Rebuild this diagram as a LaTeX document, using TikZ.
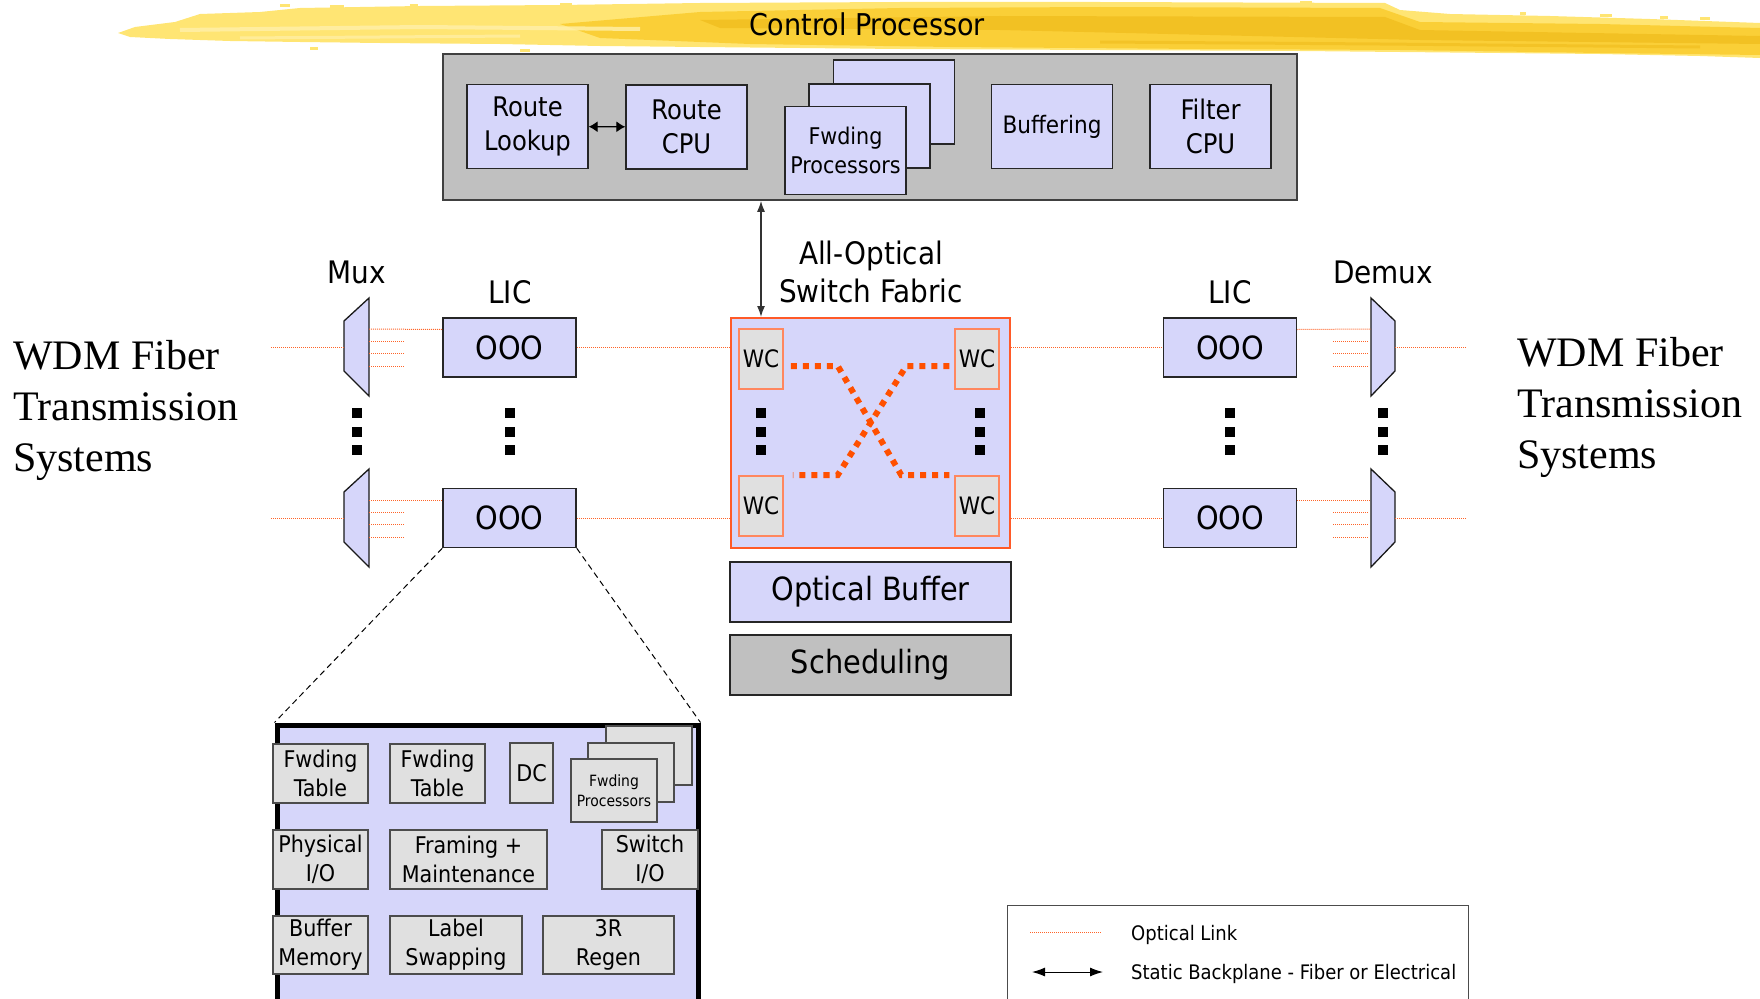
\documentclass[tikz,border=0pt]{standalone}
\usepackage{fontspec}
\setmainfont{DejaVu Sans Condensed}
\newfontfamily\wdmfont{Liberation Serif}
\usetikzlibrary{arrows.meta,calc,positioning}

\definecolor{lav}{RGB}{214,214,250}
\definecolor{cpgray}{RGB}{192,192,192}
\definecolor{boxgray}{RGB}{224,224,224}
\definecolor{linkorange}{RGB}{255,100,40}
\definecolor{xorange}{RGB}{255,80,0}
\definecolor{fabedge}{RGB}{255,90,40}
\definecolor{wcedge}{RGB}{255,135,95}
\definecolor{brushA}{RGB}{255,229,115}
\definecolor{brushB}{RGB}{250,204,45}
\definecolor{brushC}{RGB}{238,184,22}
\definecolor{brushD}{RGB}{255,240,170}

\tikzset{
  >={Latex[length=11pt,width=8pt]},
  cpbox/.style  ={draw=black!85, line width=1.3pt, fill=lav, minimum width=121pt,
                  minimum height=84pt, inner sep=0pt, align=center,
                  font=\fontsize{27}{34}\selectfont},
  licbox/.style ={draw=black!85, line width=1.5pt, fill=lav, minimum width=133pt,
                  minimum height=59pt, inner sep=0pt, font=\fontsize{32}{36}\selectfont},
  wcbox/.style  ={draw=wcedge, line width=1.5pt, fill=boxgray, minimum width=44pt,
                  minimum height=60pt, inner sep=0pt, font=\fontsize{24}{28}\selectfont},
  partbox/.style={draw=black!70, line width=1.2pt, fill=boxgray, minimum height=59pt,
                  inner sep=0pt, align=center, font=\fontsize{23}{29}\selectfont},
  widebox/.style={draw=black!85, line width=1.5pt, minimum width=281pt,
                  minimum height=60pt, inner sep=0pt, font=\fontsize{32}{36}\selectfont},
  mux/.style    ={draw=black!90, line width=1.3pt, fill=lav},
  olink/.style  ={draw=linkorange, line width=1pt, dash pattern=on 1pt off 1pt},
  xlink/.style  ={draw=xorange, line width=6pt, dash pattern=on 6pt off 6pt},
  lbl/.style    ={inner sep=0pt, font=\fontsize{31}{38}\selectfont, align=center},
  wdm/.style    ={inner sep=0pt, font=\wdmfont\fontsize{42}{51}\selectfont, align=left},
  legtext/.style={inner sep=0pt, font=\fontsize{20}{24}\selectfont},
}

\begin{document}
\begin{tikzpicture}[x=1pt, y=-1pt, line join=miter]
  \useasboundingbox (0,0) rectangle (1760,998);

  %--- Brush stroke banner ---
  \fill[brushA] (118,33) -- (135,27) -- (175,22) -- (200,14) -- (260,12) -- (300,8)
    -- (420,6) -- (560,5) -- (700,3) -- (900,2) -- (1100,2) -- (1385,3) -- (1400,10)
    -- (1450,14) -- (1550,16) -- (1650,19) -- (1760,23) -- (1760,58) -- (1700,56)
    -- (1600,54) -- (1500,53) -- (1400,52) -- (1300,51) -- (1100,50) -- (900,49)
    -- (700,47) -- (600,46) -- (500,44) -- (380,43) -- (300,42) -- (230,41)
    -- (170,39) -- (130,37) -- cycle;
  \fill[brushB, opacity=0.85] (560,24) -- (700,12) -- (900,8) -- (1100,7) -- (1380,8)
    -- (1420,22) -- (1600,24) -- (1760,28) -- (1760,55) -- (1600,53) -- (1400,50)
    -- (1200,49) -- (950,47) -- (750,44) -- (600,38) -- cycle;
  \fill[brushC, opacity=0.6] (700,20) -- (1000,16) -- (1385,17) -- (1420,30)
    -- (1760,36) -- (1760,44) -- (1420,40) -- (1000,30) -- (720,28) -- cycle;
  \draw[brushD, line width=4pt, opacity=0.8] (180,30) -- (420,27) -- (640,29);
  \draw[brushD, line width=3pt, opacity=0.7] (240,38) -- (520,36);
  \draw[brushC, line width=3pt, opacity=0.5] (1100,42) -- (1380,44) -- (1700,47);
  % loose flecks
  \foreach \fx/\fy/\fw in {280/4/10, 330/5/14, 410/4/8, 470/6/18, 560/3/12,
                           640/4/9, 1300/1/12, 1420/13/10, 1480/15/14, 1520/12/6,
                           1600/14/12, 1660/16/8, 1700/17/10, 310/47/8, 520/49/10}
    \fill[brushA] (\fx,\fy) rectangle ++(\fw,3);
  \node[inner sep=0pt, anchor=base, font=\fontsize{30}{34}\selectfont] (cptitle)
    at (867,36) {Control Processor};

  %--- Control processor card ---
  \node[draw=black!75, line width=1.6pt, fill=cpgray, minimum width=854pt,
        minimum height=146pt, inner sep=0pt] (cp) at (870,127) {};
  \node[cpbox] (lookup) at (527.5,126.5) {Route\\Lookup};
  \node[cpbox] (rcpu)   at (686.5,127)   {Route\\CPU};
  \node[cpbox] (fwdC)   at (894,102)     {};
  \node[cpbox] (fwdB)   at (869.5,126)   {};
  \node[cpbox, minimum height=88pt, font=\fontsize{23}{29}\selectfont] (fwdA)
    at (845.5,150.5) {Fwding\\Processors};
  \node[cpbox, font=\fontsize{24}{28}\selectfont] (buff) at (1052,126.5) {Buffering};
  \node[cpbox] (fcpu)   at (1210.5,126.5) {Filter\\CPU};
  \draw[<->, line width=1.2pt, >={Latex[length=9pt,width=11pt]}] (lookup) -- (rcpu);

  %--- Switch fabric ---
  \node[draw=fabedge, line width=2pt, fill=lav, minimum width=279pt,
        minimum height=230pt, inner sep=0pt] (fab) at (870.5,433) {};
  \node[wcbox] (wc1) at (761,359) {WC};
  \node[wcbox] (wc2) at (977,359) {WC};
  \node[wcbox] (wc3) at (761,506) {WC};
  \node[wcbox] (wc4) at (977,506) {WC};
  \draw[xlink] ($(wc1.east)+(7,7)$) -- ++(47,0) -- ($(wc4.west)+(-53,-31)$) -- ++(48,0);
  \draw[xlink] ($(wc2.west)+(-5,7)$) -- ++(-43,0) -- ($(wc3.east)+(54,-31)$) -- ++(-45,0);
  \node[lbl, anchor=base] (fablbl) at (871,302) {All-Optical\\Switch Fabric};
  \draw[<->, line width=1.4pt, draw=black!80] (cp.south -| wc1) -- (fab.north -| wc1);

  \node[widebox, fill=lav]    (obuf)  at (870.5,592) {Optical Buffer};
  \node[widebox, fill=cpgray] (sched) at (870.5,665) {Scheduling};

  %--- Line interface cards ---
  \node[licbox] (licA) at (509.5,347.5) {OOO};
  \node[licbox] (licB) at (509.5,518)   {OOO};
  \node[licbox] (licC) at (1230,347.5)  {OOO};
  \node[licbox] (licD) at (1230,518)    {OOO};
  \node[lbl, anchor=base] (liclblL) at (510,303)  {LIC};
  \node[lbl, anchor=base] (liclblR) at (1230,303) {LIC};
  \node[lbl, anchor=base] (muxlbl)  at (357,283)  {Mux};
  \node[lbl, anchor=base] (dmxlbl)  at (1383,283) {Demux};

  %--- Mux / demux and optical links ---
  \foreach \yy/\n in {347/A,518/B} {
    \draw[mux] (344,\yy-26) -- (369,\yy-49) -- (369,\yy+49) -- (344,\yy+24) -- cycle;
    \draw[mux] (1371,\yy-49) -- (1395,\yy-26) -- (1395,\yy+24) -- (1371,\yy+49) -- cycle;
    \coordinate (mux\n) at (344,\yy);
    \coordinate (dmx\n) at (1395,\yy);
    \coordinate (in\n)  at (271,\yy);
    \coordinate (out\n) at (1466,\yy);
    \foreach \dy in {-6,6,19} {
      \draw[olink] ($(mux\n)+(25,\dy)$) -- ++(35,0);
      \draw[olink] ($(dmx\n)+(-62,\dy)$) -- ++(35,0);
    }
  }
  \draw[olink] (inA) -- (muxA);
  \draw[olink] (inB) -- (muxB);
  \draw[olink] (dmxA) -- (outA);
  \draw[olink] (dmxB) -- (outB);
  \draw[olink] ($(muxA)+(25,-18)$) -- ($(licA.west)+(0,-18)$);
  \draw[olink] ($(muxB)+(25,-18)$) -- ($(licB.west)+(0,-18)$);
  \draw[olink] ($(licC.east)+(0,-18)$) -- ($(dmxA)+(-24,-18)$);
  \draw[olink] ($(licD.east)+(0,-18)$) -- ($(dmxB)+(-24,-18)$);
  \draw[olink] (licA.east) -- (licA.east -| fab.west);
  \draw[olink] (licB.east) -- (licB.east -| fab.west);
  \draw[olink] (fab.east |- licC.west) -- (licC.west);
  \draw[olink] (fab.east |- licD.west) -- (licD.west);

  % vertical ellipses
  \foreach \x in {357,510,761,980,1230,1383}
    \foreach \dy in {0,18.5,37}
      \fill (\x-5,408+\dy) rectangle ++(10,10);

  %--- WDM side labels ---
  \node[wdm, anchor=base west] (wdmL) at (13,471)   {WDM Fiber\\Transmission\\Systems};
  \node[wdm, anchor=base west] (wdmR) at (1517,468) {WDM Fiber\\Transmission\\Systems};

  %--- Blow-up of one LIC ---
  \node[draw=black, line width=5pt, fill=lav, minimum width=421pt, minimum height=300pt,
        anchor=north west, inner sep=0pt] (detail) at (274.5,722.5) {};
  \draw[dashed, line width=1pt, dash pattern=on 6pt off 4pt] (licB.south west) -- (detail.north west);
  \draw[dashed, line width=1pt, dash pattern=on 6pt off 4pt] (licB.south east) -- (detail.north east);

  \node[partbox, minimum width=95pt]  (ftA)   at (320.5,773.5) {Fwding\\Table};
  \node[partbox, minimum width=95pt]  (ftB)   at (437.5,773.5) {Fwding\\Table};
  \node[partbox, minimum width=43pt, minimum height=60pt] (dc) at (531.5,773) {DC};
  \node[partbox, minimum width=86pt]  (fpC)   at (649,755.5) {};
  \node[partbox, minimum width=86pt]  (fpB)   at (631,772.5) {};
  \node[partbox, minimum width=86pt, minimum height=63pt,
        font=\fontsize{15.5}{20}\selectfont] (fpA) at (614,790.5) {Fwding\\Processors};
  \node[partbox, minimum width=95pt]  (phy)   at (320.5,859.5) {Physical\\I/O};
  \node[partbox, minimum width=157pt] (frm)   at (468.5,859.5) {Framing +\\Maintenance};
  \node[partbox, minimum width=96pt]  (swio)  at (650,859.5)   {Switch\\I/O};
  \node[partbox, minimum width=95pt, minimum height=58pt]  (bufm)  at (320.5,945) {Buffer\\Memory};
  \node[partbox, minimum width=132pt, minimum height=58pt] (lblsw) at (456,945)   {Label\\Swapping};
  \node[partbox, minimum width=131pt, minimum height=58pt] (regen) at (608.5,945) {3R\\Regen};

  %--- Legend ---
  \node[draw=black!70, line width=1.2pt, minimum width=461pt, minimum height=120pt,
        anchor=north west, inner sep=0pt] (legend) at (1007,905) {};
  \coordinate (lgA1) at (1030,932);
  \coordinate (lgA2) at (1102,932);
  \coordinate (lgB1) at (1032,972);
  \coordinate (lgB2) at (1103,972);
  \draw[olink] (lgA1) -- (lgA2);
  \draw[<->, line width=1pt, >={Latex[length=13pt,width=9pt]}] (lgB1) -- (lgB2);
  \node[legtext, anchor=base west] (lgtA) at (1131,940) {Optical Link};
  \node[legtext, anchor=base west] (lgtB) at (1131,979) {Static Backplane - Fiber or Electrical};

\end{tikzpicture}
\end{document}
